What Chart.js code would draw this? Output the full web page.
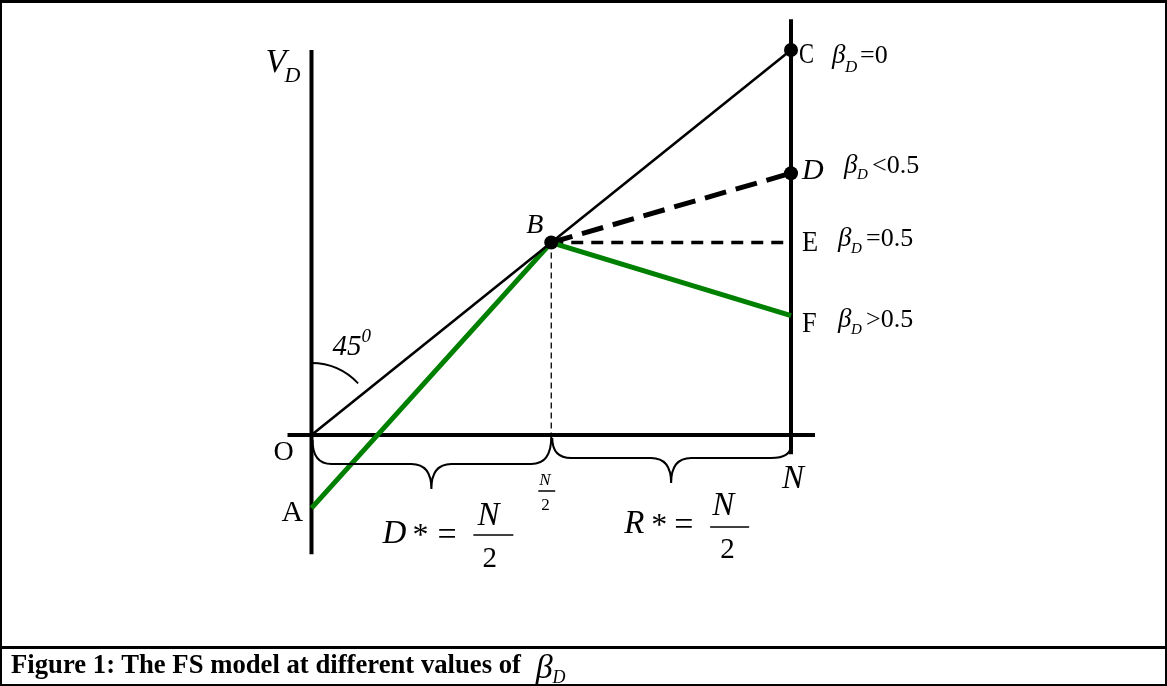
<!DOCTYPE html>
<html>
<head>
<meta charset="utf-8">
<script src="https://cdn.jsdelivr.net/npm/chart.js"></script>
<style>
body{margin:0;background:#fff;}
#frame{position:absolute;left:0;top:0;width:1167px;height:686px;box-sizing:border-box;border:2px solid #000;border-top:3px solid #000;}
#chart{position:absolute;left:0;top:0;}
#cap{position:absolute;left:0;top:646px;width:1167px;height:40px;box-sizing:border-box;border-top:3px solid #000;padding-left:11px;font:bold 26.7px "Liberation Serif",serif;line-height:30px;white-space:nowrap;}
#cap i{font-weight:normal;font-size:34px;line-height:0;margin-left:8px;vertical-align:-5px;}
#cap sub{font-size:18px;vertical-align:-5px;line-height:0;}
</style>
</head>
<body>
<div id="frame"></div>
<canvas id="chart" width="1167" height="648"></canvas>
<div id="cap">Figure 1: The FS model at different values of <i>β<sub>D</sub></i></div>
<script>
// =======================
// Diagram data (x: share of N, y: V_D)
// =======================

const pointNames = ["O", "A", "B", "C", "D", "E", "F"];
const pointX = [0, 0, 0.5, 1, 1, 1, 1];
const pointY = [0, -0.19, 0.5, 1, 0.68, 0.5, 0.31];

const axisXRange = [-0.05, 1.05];
const leftAxisRange = [-0.31, 1];
const rightAxisRange = [-0.05, 1.08];
const halfMark = 0.5;

const betaNames = ["C", "D", "E", "F"];
const betaTexts = ["=0", "<0.5", "=0.5", ">0.5"];
const braceSpans = [[0, 0.5], [0.5, 1]];

function pt(name) {
    const i = pointNames.indexOf(name);
    return { x: pointX[i], y: pointY[i] };
}

function lineSet(data, width, color, dash, order) {
    return {
        data: data,
        showLine: true,
        borderColor: color,
        borderWidth: width,
        borderDash: dash || [],
        borderCapStyle: "butt",
        pointRadius: 0,
        fill: false,
        tension: 0,
        order: order
    };
}

// =======================
// Labels, braces, angle mark
// =======================

const labelPlugin = {
    id: "labels",
    afterDatasetsDraw(chart) {
        const ctx = chart.ctx;
        const xs = chart.scales.x;
        const ys = chart.scales.y;
        const P = n => {
            const p = pt(n);
            return [xs.getPixelForValue(p.x), ys.getPixelForValue(p.y)];
        };
        const text = (s, x, y, size, style, sx) => {
            ctx.save();
            ctx.font = (style || "") + " " + size + "px 'Liberation Serif'";
            ctx.fillStyle = "#000";
            ctx.textAlign = "left";
            ctx.textBaseline = "alphabetic";
            ctx.translate(x, y);
            ctx.scale(sx || 1, 1);
            ctx.fillText(s, 0, 0);
            ctx.restore();
        };
        const bar = (x1, x2, y) => {
            ctx.save();
            ctx.strokeStyle = "#000";
            ctx.lineWidth = 1.5;
            ctx.beginPath();
            ctx.moveTo(x1, y);
            ctx.lineTo(x2, y);
            ctx.stroke();
            ctx.restore();
        };

        // V_D
        const vx = xs.getPixelForValue(0);
        const vy = ys.getPixelForValue(leftAxisRange[1]);
        text("V", vx - 46, vy + 22, 34, "italic");
        text("D", vx - 27, vy + 32, 22, "italic");

        // point letters
        let [x, y] = P("O");
        text("O", x - 38, y + 25, 28);
        [x, y] = P("A");
        text("A", x - 30, y + 13, 30);
        [x, y] = P("B");
        text("B", x - 25, y - 10, 28, "italic");
        [x, y] = P("C");
        text("C", x + 8, y + 13, 30, "", 0.75);
        [x, y] = P("D");
        text("D", x + 11, y + 6, 30, "italic");
        [x, y] = P("E");
        text("E", x + 11, y + 8, 30, "", 0.88);
        [x, y] = P("F");
        text("F", x + 11, y + 16, 30, "", 0.88);

        // beta labels
        const betaPos = { C: [41, 13, 17, 9], D: [53, 0, 15, 6], E: [47, 3, 15, 7], F: [47, 11, 15, 7] };
        betaNames.forEach((n, i) => {
            const [bx, by] = P(n);
            const o = betaPos[n];
            text("β", bx + o[0], by + o[1], 27, "italic");
            text("D", bx + o[0] + 13, by + o[1] + o[3], o[2], "italic");
            text(betaTexts[i], bx + o[0] + 28, by + o[1], 26);
        });

        // 45 degree mark
        [x, y] = P("O");
        ctx.save();
        ctx.strokeStyle = "#000";
        ctx.lineWidth = 1.8;
        ctx.beginPath();
        ctx.ellipse(x, y, 67, 72, 0, -Math.PI / 2, -Math.PI * 0.255);
        ctx.stroke();
        ctx.restore();
        text("45", x + 21, y - 80, 29, "italic");
        text("0", x + 50, y - 93, 19, "italic");

        // braces under the axis
        const y0 = ys.getPixelForValue(0);
        const braceStyle = [[5, 29, 54], [3, 23, 48]];
        braceSpans.forEach((s, i) => {
            const x1 = xs.getPixelForValue(s[0]);
            const x2 = xs.getPixelForValue(s[1]);
            const xm = (x1 + x2) / 2;
            const [a, f, t] = braceStyle[i];
            const yEnd2 = i === 1 ? y0 + 10 : y0 + 2;
            const r = 20;
            ctx.save();
            ctx.strokeStyle = "#000";
            ctx.lineWidth = 2;
            ctx.beginPath();
            ctx.moveTo(x1 + 1, y0 + a);
            ctx.quadraticCurveTo(x1 + 1, y0 + f, x1 + r, y0 + f);
            ctx.lineTo(xm - r, y0 + f);
            ctx.quadraticCurveTo(xm, y0 + f, xm, y0 + t);
            ctx.quadraticCurveTo(xm, y0 + f, xm + r, y0 + f);
            ctx.lineTo(x2 - r, y0 + f);
            ctx.quadraticCurveTo(x2, y0 + f, x2, yEnd2);
            ctx.stroke();
            ctx.restore();
        });

        // N/2 mark
        const hx = xs.getPixelForValue(halfMark);
        text("N", hx - 12, y0 + 50, 17, "italic");
        bar(hx - 13, hx + 4, y0 + 56);
        text("2", hx - 10, y0 + 75, 17);

        // N at the end
        const nx = xs.getPixelForValue(1);
        text("N", nx - 9, y0 + 53, 33, "italic");

        // D* = N/2
        let cx = xs.getPixelForValue((braceSpans[0][0] + braceSpans[0][1]) / 2);
        text("D", cx - 49, y0 + 108, 33, "italic");
        text("*", cx - 19, y0 + 110, 32);
        text("=", cx + 6, y0 + 110, 34);
        text("N", cx + 46, y0 + 90, 33, "italic");
        bar(cx + 42, cx + 82, y0 + 100);
        text("2", cx + 51, y0 + 132, 29);

        // R* = N/2
        cx = xs.getPixelForValue((braceSpans[1][0] + braceSpans[1][1]) / 2);
        text("R", cx - 47, y0 + 98, 33, "italic");
        text("*", cx - 20, y0 + 100, 32);
        text("=", cx + 3, y0 + 100, 34);
        text("N", cx + 41, y0 + 80, 33, "italic");
        bar(cx + 39, cx + 78, y0 + 92);
        text("2", cx + 49, y0 + 123, 29);
    }
};

// =======================
// Chart
// =======================

const O = pt("O"), A = pt("A"), B = pt("B"), C = pt("C"), D = pt("D"), E = pt("E"), F = pt("F");

new Chart(document.getElementById("chart"), {
    type: "scatter",
    data: {
        datasets: [
            {
                data: [B, C, D],
                pointRadius: 7,
                pointHoverRadius: 7,
                backgroundColor: "#000",
                borderWidth: 0,
                showLine: false,
                order: 0
            },
            lineSet([O, C], 2.6, "#000", null, 2),
            lineSet([A, B, F], 5, "#008000", null, 2),
            lineSet([B, D], 5, "#000", [22, 10], 2),
            lineSet([B, E], 3.5, "#000", [12, 8], 2),
            lineSet([{ x: halfMark, y: B.y }, { x: halfMark, y: 0 }], 1.3, "#000", [6, 4], 3),
            lineSet([{ x: axisXRange[0], y: 0 }, { x: axisXRange[1], y: 0 }], 4, "#000", null, 4),
            lineSet([{ x: 0, y: leftAxisRange[0] }, { x: 0, y: leftAxisRange[1] }], 4, "#000", null, 4),
            lineSet([{ x: 1, y: rightAxisRange[0] }, { x: 1, y: rightAxisRange[1] }], 4, "#000", null, 4)
        ]
    },
    options: {
        responsive: false,
        animation: false,
        devicePixelRatio: 1,
        layout: {
            padding: { left: 71.75, right: 136.25, top: 11.5, bottom: 20.5 }
        },
        scales: {
            x: { type: "linear", min: -0.5, max: 1.5, display: false },
            y: { type: "linear", min: -0.5, max: 1.1, display: false }
        },
        plugins: {
            legend: { display: false },
            tooltip: { enabled: false }
        }
    },
    plugins: [labelPlugin]
});
</script>
</body>
</html>
